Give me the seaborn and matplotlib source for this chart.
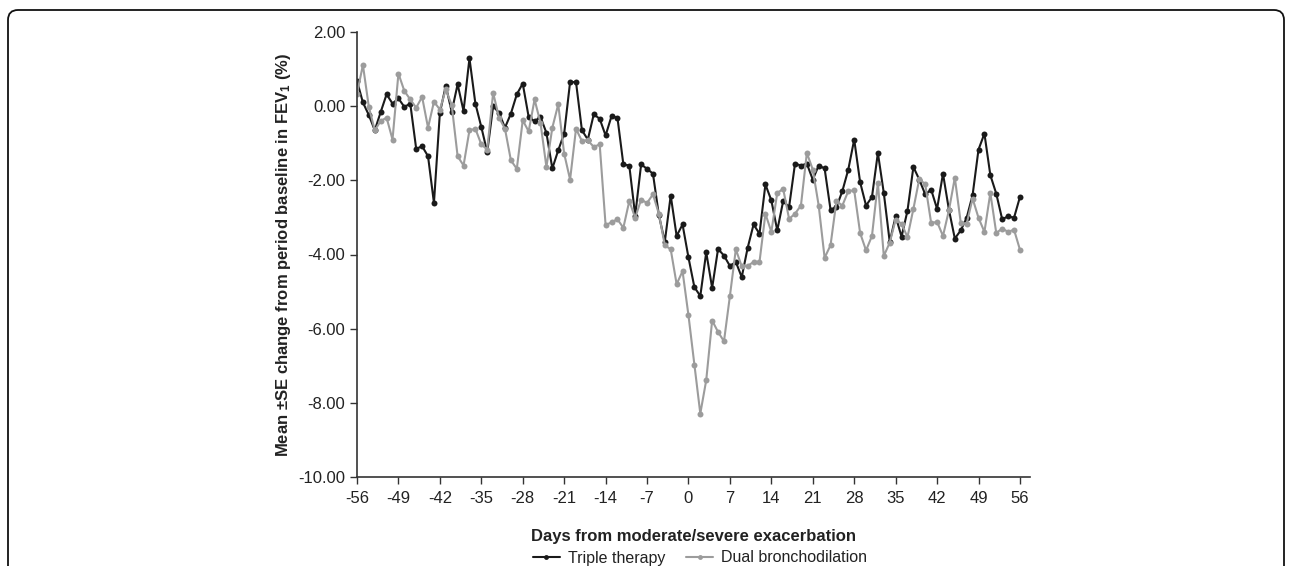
import numpy as np
import pandas as pd
import matplotlib
matplotlib.use("Agg")
import matplotlib.pyplot as plt
from matplotlib.patches import FancyBboxPatch
from matplotlib.transforms import IdentityTransform
import seaborn as sns

# days from exacerbation, -56 .. 56
days = list(range(-56, 57))

triple_therapy = [
    0.68, 0.10, -0.24, -0.65, -0.16, 0.32, 0.07,        # -56..-50
    0.21, -0.02, 0.07, -1.15, -1.08, -1.35, -2.61,      # -49..-43
    -0.18, 0.55, -0.15, 0.59, -0.13, 1.29, 0.07,        # -42..-36
    -0.56, -1.24, 0.00, -0.18, -0.58, -0.20, 0.32,      # -35..-29
    0.61, -0.29, -0.41, -0.29, -0.72, -1.68, -1.19,     # -28..-22
    -0.74, 0.65, 0.65, -0.65, -0.90, -0.22, -0.34,      # -21..-15
    -0.79, -0.27, -0.31, -1.57, -1.60, -2.95, -1.57,    # -14..-8
    -1.69, -1.82, -2.94, -3.66, -2.41, -3.50, -3.19,    # -7..-1
    -4.08, -4.88, -5.12, -3.94, -4.90, -3.85, -4.03,    # 0..6
    -4.31, -4.20, -4.61, -3.82, -3.19, -3.44, -2.11,    # 7..13
    -2.54, -3.35, -2.56, -2.72, -1.55, -1.60, -1.55,    # 14..20
    -1.98, -1.60, -1.68, -2.79, -2.72, -2.29, -1.71,    # 21..27
    -0.90, -2.05, -2.68, -2.45, -1.26, -2.34, -3.66,    # 28..34
    -2.97, -3.52, -2.82, -1.64, -1.98, -2.38, -2.25,    # 35..41
    -2.77, -1.82, -2.79, -3.57, -3.35, -3.01, -2.40,    # 42..48
    -1.17, -0.74, -1.86, -2.36, -3.05, -2.97, -3.01,    # 49..55
    -2.45,                                              # 56
]

dual_bronchodilation = [
    0.34, 1.11, -0.02, -0.65, -0.40, -0.31, -0.90,      # -56..-50
    0.88, 0.41, 0.18, -0.04, 0.25, -0.58, 0.12,         # -49..-43
    -0.09, 0.45, 0.03, -1.35, -1.60, -0.65, -0.61,      # -42..-36
    -1.03, -1.17, 0.36, -0.31, -0.61, -1.46, -1.69,     # -35..-29
    -0.38, -0.68, 0.18, -0.45, -1.64, -0.58, 0.05,      # -28..-22
    -1.28, -1.98, -0.61, -0.94, -0.92, -1.10, -1.03,    # -21..-15
    -3.21, -3.13, -3.05, -3.28, -2.56, -3.01, -2.52,    # -14..-8
    -2.61, -2.38, -2.90, -3.75, -3.86, -4.80, -4.45,    # -7..-1
    -5.64, -6.97, -8.29, -7.39, -5.78, -6.09, -6.34,    # 0..6
    -5.12, -3.86, -4.32, -4.31, -4.20, -4.20, -2.90,    # 7..13
    -3.39, -2.34, -2.23, -3.04, -2.90, -2.68, -1.26,    # 14..20
    -1.71, -2.68, -4.09, -3.75, -2.56, -2.68, -2.29,    # 21..27
    -2.27, -3.42, -3.89, -3.50, -2.07, -4.04, -3.68,    # 28..34
    -3.06, -3.17, -3.53, -2.77, -1.96, -2.11, -3.15,    # 35..41
    -3.12, -3.50, -2.81, -1.93, -3.14, -3.17, -2.49,    # 42..48
    -3.01, -3.39, -2.34, -3.42, -3.30, -3.39, -3.33,    # 49..55
    -3.87,                                              # 56
]

series_names = ["Triple therapy", "Dual bronchodilation"]
x_ticks = list(range(-56, 57, 7))
y_ticks = [2, 0, -2, -4, -6, -8, -10]

sns.set_style("ticks")
plt.rcParams["font.family"] = ["Liberation Sans", "DejaVu Sans"]
plt.rcParams["mathtext.default"] = "regular"

df = pd.DataFrame({
    "day": days * 2,
    "value": triple_therapy + dual_bronchodilation,
    "group": [series_names[0]] * len(days) + [series_names[1]] * len(days),
})

fig = plt.figure(figsize=(12.92, 5.66), dpi=100)
ax = fig.add_axes([357 / 1292, 1 - 477 / 566, 673 / 1292, 445 / 566])

sns.lineplot(data=df, x="day", y="value", hue="group", hue_order=series_names,
             palette=["#1a1a1a", "#9c9c9c"], marker="o", markersize=4.3,
             markeredgewidth=0, linewidth=1.5, ax=ax, legend=False)

ax.set_xlim(-56, 57.7)
ax.set_ylim(-10, 2)
ax.set_xticks(x_ticks)
ax.set_xticklabels([str(t) for t in x_ticks])
ax.set_yticks(y_ticks)
ax.set_yticklabels([f"{t:.2f}" for t in y_ticks])
ax.tick_params(axis="both", labelsize=12, length=5, width=1, color="#333333",
               labelcolor="#222222")
ax.tick_params(axis="x", pad=5)
for side in ["top", "right"]:
    ax.spines[side].set_visible(False)
for side in ["left", "bottom"]:
    ax.spines[side].set_color("#333333")
    ax.spines[side].set_linewidth(1.2)

ax.set_xlabel("Days from moderate/severe exacerbation", fontsize=12,
              fontweight="bold", color="#222222", labelpad=17)
ax.set_ylabel("Mean \u00b1SE change from period baseline in FEV$_1$ (%)",
              fontsize=12, fontweight="bold", color="#222222", labelpad=4)

handles = [
    plt.Line2D([], [], color="#1a1a1a", marker="o", markersize=3.5,
               markeredgewidth=0, linewidth=1.5),
    plt.Line2D([], [], color="#9c9c9c", marker="o", markersize=3.5,
               markeredgewidth=0, linewidth=1.5),
]
fig.legend(handles, series_names, loc="center", bbox_to_anchor=(700 / 1292, 1 - 558 / 566),
           ncol=2, frameon=False, fontsize=11.5, handlelength=1.7,
           columnspacing=1.3, handletextpad=0.5, labelcolor="#222222",
           borderpad=0.1)

# rounded frame round the panel, drawn in pixels
frame = FancyBboxPatch((8, -60), 1276, 566 - 10 + 60,
                       boxstyle="round,pad=0,rounding_size=10",
                       transform=IdentityTransform(), fill=False,
                       edgecolor="#111111", linewidth=1.3, clip_on=False)
fig.patches.append(frame)

fig.savefig("out.png", dpi=100)
